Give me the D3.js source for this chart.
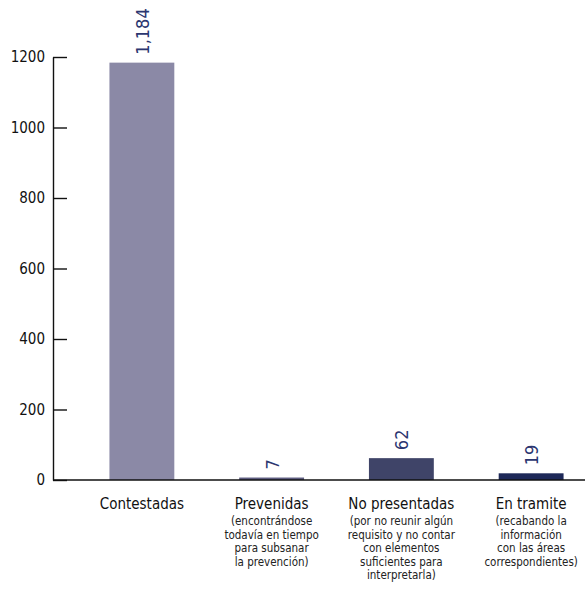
<!DOCTYPE html>
<html>
<head>
<meta charset="utf-8">
<script src="https://cdn.jsdelivr.net/npm/d3@7"></script>
<style>
  body { margin: 0; background: #fff; }
  svg { display: block; }
  text { font-family: "DejaVu Sans Condensed", "DejaVu Sans", sans-serif; font-stretch: condensed; }
</style>
</head>
<body>
<div id="chart"></div>
<script>
// data
const categories = ["Contestadas", "Prevenidas", "No presentadas", "En tramite"];
const values = [1184, 7, 62, 19];
const valueLabels = ["1,184", "7", "62", "19"];
const subLabels = [
    [],
    ["(encontrándose", "todavía en tiempo", "para subsanar", "la prevención)"],
    ["(por no reunir algún", "requisito y no contar", "con elementos", "suficientes para", "interpretarla)"],
    ["(recabando la", "información", "con las áreas", "correspondientes)"]
];
const yTicks = [0, 200, 400, 600, 800, 1000, 1200];
const barColors = ["#8b89a6", "#5d5c7f", "#3f4468", "#1d2858"];

const width = 585, height = 615;
const axisX = 53;

const svg = d3.select("#chart")
    .append("svg")
    .attr("width", width)
    .attr("height", height);

const y = d3.scaleLinear()
    .domain([0, 1200])
    .range([480, 57]);

const x = d3.scaleBand()
    .domain(categories)
    .range([77, 596])
    .paddingInner(0.5)
    .paddingOuter(0.25);

// y axis, ticks pointing inward
const yAxis = svg.append("g")
    .attr("transform", `translate(${axisX},0)`)
    .call(d3.axisLeft(y)
        .tickValues(yTicks)
        .tickSizeInner(-14)
        .tickSizeOuter(0)
        .tickPadding(8)
        .tickFormat(d3.format("d")));

yAxis.select(".domain").attr("stroke", "#111").attr("stroke-width", 1.4);
yAxis.selectAll(".tick line").attr("stroke", "#111").attr("stroke-width", 1.4);
yAxis.selectAll(".tick text")
    .style("font-family", "\"DejaVu Sans Condensed\", \"DejaVu Sans\", sans-serif")
    .style("font-size", "15px")
    .attr("fill", "#111");

// bars
svg.selectAll(".bar")
    .data(categories)
    .enter()
    .append("rect")
    .attr("class", "bar")
    .attr("x", d => x(d))
    .attr("width", x.bandwidth())
    .attr("y", (d, i) => y(values[i]))
    .attr("height", (d, i) => y(0) - y(values[i]))
    .attr("fill", (d, i) => barColors[i]);

// baseline across the full width
svg.append("line")
    .attr("x1", axisX)
    .attr("x2", width)
    .attr("y1", y(0))
    .attr("y2", y(0))
    .attr("stroke", "#111")
    .attr("stroke-width", 1.6);

// rotated value labels
svg.selectAll(".val")
    .data(categories)
    .enter()
    .append("text")
    .attr("class", "val")
    .attr("transform", (d, i) =>
        `translate(${x(d) + x.bandwidth() / 2 + 7},${y(values[i]) - 8}) rotate(-90)`)
    .style("font-size", "18px")
    .attr("fill", "#2b3670")
    .text((d, i) => valueLabels[i]);

// category labels
const cat = svg.selectAll(".cat")
    .data(categories)
    .enter()
    .append("g")
    .attr("class", "cat")
    .attr("transform", d => `translate(${x(d) + x.bandwidth() / 2},0)`);

cat.append("text")
    .attr("y", 509)
    .attr("text-anchor", "middle")
    .style("font-size", "15px")
    .attr("fill", "#111")
    .text(d => d);

cat.each(function(d, i) {
    d3.select(this).selectAll(".sub")
        .data(subLabels[i])
        .enter()
        .append("text")
        .attr("class", "sub")
        .attr("y", (s, j) => 525 + j * 13.5)
        .attr("text-anchor", "middle")
        .style("font-size", "11.5px")
        .attr("fill", "#222")
        .text(s => s);
});
</script>
</body>
</html>
